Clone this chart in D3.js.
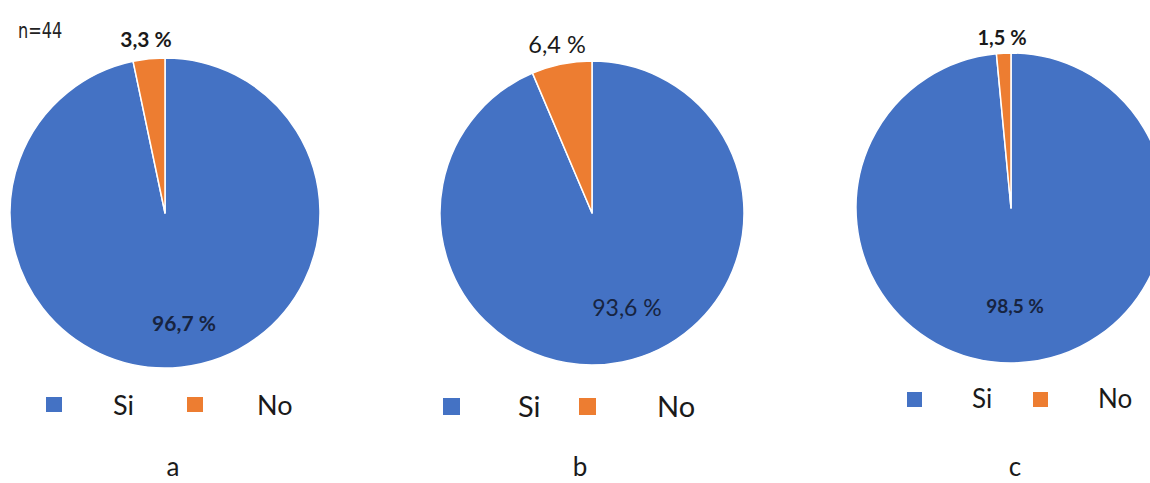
<!DOCTYPE html>
<html>
<head>
<meta charset="utf-8">
<script src="https://cdn.jsdelivr.net/npm/d3@7"></script>
<style>
  html, body { margin: 0; padding: 0; background: #fff; }
  svg { display: block; }
</style>
</head>
<body>
<svg id="chart" width="1150" height="483"></svg>
<script>
// Answer categories shared by the three pies
const categories = ["Si", "No"];
// Percentages per panel (Si, No)
const valuesA = [96.7, 3.3];
const valuesB = [93.6, 6.4];
const valuesC = [98.5, 1.5];
const panelTitles = ["a", "b", "c"];
const sampleNote = "n=44";

const colors = d3.scaleOrdinal().domain(categories).range(["#4472C4", "#ED7D31"]);
const fmt = v => d3.format(".1f")(v).replace(".", ",") + " %";
const FONT = "Lato, 'Open Sans', sans-serif";

const svg = d3.select("#chart");

// Layout of each panel: pie centre/radius, label placement, legend placement
const panels = [
  { values: valuesA, title: panelTitles[0], cx: 165, cy: 213, r: 155, bold: true, fs: [21, 21],
    labelPos: [[184, 331], [146, 47]],
    legend: { sq: [[46, 397, 16, 15], [187, 397, 16, 15]], text: [113, 257], base: 415, fs: 27 }, titleX: 173 },
  { values: valuesB, title: panelTitles[1], cx: 592, cy: 213, r: 152, bold: false, fs: [23, 23.5],
    labelPos: [[627, 316], [557, 53]],
    legend: { sq: [[443, 398, 17, 17], [579, 398, 17, 17]], text: [518, 657], base: 417, fs: 29 }, titleX: 580 },
  { values: valuesC, title: panelTitles[2], cx: 1011, cy: 208, r: 155, bold: true, fs: [19, 20],
    labelPos: [[1015, 313], [1002, 45]],
    legend: { sq: [[907, 392, 15, 15], [1033, 392, 15, 15]], text: [972, 1098], base: 408, fs: 26 }, titleX: 1015 }
];

const pie = d3.pie().sort(null).value(d => d.value);

panels.forEach(p => {
  const data = categories.map((c, i) => ({ cat: c, value: p.values[i] }));
  const arcs = pie(data);
  const arc = d3.arc().innerRadius(0).outerRadius(p.r);
  const g = svg.append("g").attr("transform", `translate(${p.cx},${p.cy})`);

  g.selectAll("path")
    .data(arcs)
    .join("path")
    .attr("d", arc)
    .attr("fill", d => colors(d.data.cat))
    .attr("stroke", "#fff")
    .attr("stroke-width", 1.5)
    .attr("stroke-linejoin", "round");

  // Value labels
  svg.selectAll(null)
    .data(arcs)
    .join("text")
    .attr("x", (d, i) => p.labelPos[i][0])
    .attr("y", (d, i) => p.labelPos[i][1])
    .attr("text-anchor", "middle")
    .attr("font-family", FONT)
    .attr("font-size", (d, i) => p.fs[i])
    .attr("font-weight", p.bold ? 700 : 400)
    .attr("fill", (d, i) => i === 0 ? "#172440" : "#1a1a1a")
    .text(d => fmt(d.data.value));

  // Legend
  const lg = svg.append("g");
  categories.forEach((c, i) => {
    const [sx, sy, sw, sh] = p.legend.sq[i];
    lg.append("rect")
      .attr("x", sx)
      .attr("y", sy)
      .attr("width", sw)
      .attr("height", sh)
      .attr("fill", colors(c));
    lg.append("text")
      .attr("x", p.legend.text[i])
      .attr("y", p.legend.base)
      .attr("font-family", FONT)
      .attr("font-size", p.legend.fs)
      .attr("fill", "#1a1a1a")
      .text(c);
  });

  // Panel letter
  svg.append("text")
    .attr("x", p.titleX)
    .attr("y", 476)
    .attr("text-anchor", "middle")
    .attr("font-family", FONT)
    .attr("font-size", 26)
    .attr("fill", "#1a1a1a")
    .text(p.title);
});

svg.append("text")
  .attr("x", 0)
  .attr("y", 0)
  .attr("font-family", "DejaVu Sans, sans-serif")
  .attr("font-size", 19)
  .attr("fill", "#222")
  .attr("transform", "translate(18,38) scale(0.85,1.12)")
  .text(sampleNote);
</script>
</body>
</html>
